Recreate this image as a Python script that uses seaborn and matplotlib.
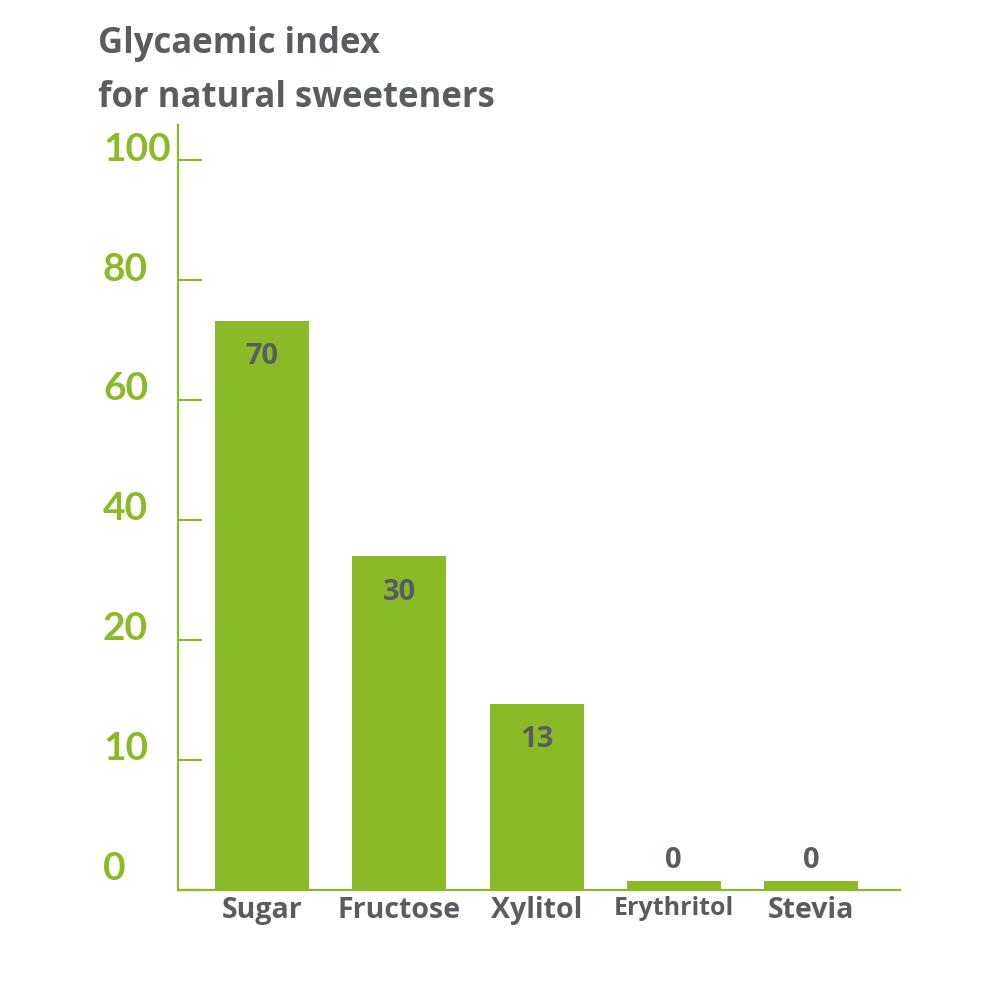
import numpy as np
import matplotlib
matplotlib.use("Agg")
import matplotlib.pyplot as plt
import seaborn as sns
from matplotlib.transforms import ScaledTranslation

# ---- data ----
categories = ["Sugar", "Fructose", "Xylitol", "Erythritol", "Stevia"]
bar_heights = [73.2, 34.0, 14.7, 0.7, 0.7]      # heights as drawn against the axis
value_labels = ["70", "30", "13", "0", "0"]      # printed values
tick_values = [0, 10, 20, 40, 60, 80, 100]
tick_labels = ["0", "10", "20", "40", "60", "80", "100"]
title_lines = ["Glycaemic index", "for natural sweeteners"]

# ---- style ----
GREEN = "#8aba27"
GRAY = "#595c61"
sns.set_theme(style="white")
plt.rcParams["font.family"] = ["Open Sans", "DejaVu Sans"]
TICKFONT = ["Lato", "DejaVu Sans"]

# piecewise (non-linear) value axis: equal spacing between listed ticks
_px = np.array([0, 130, 250, 370, 490, 610, 730, 1330.0])
_vv = np.array([0, 10, 20, 40, 60, 80, 100, 200.0])


def fwd(v):
    return np.interp(v, _vv, _px)


def inv(p):
    return np.interp(p, _px, _vv)


fig = plt.figure(figsize=(10, 10), dpi=100)
ax = fig.add_axes([0.178, 0.11, 0.722, 0.765])
ax.set_yscale("function", functions=(fwd, inv))

sns.barplot(x=categories, y=bar_heights, color=GREEN, saturation=1,
            width=0.685, linewidth=0, ax=ax)

ax.set_xlim(-0.612, 4.648)
ax.set_ylim(0, float(inv(765)))

# spines
for s in ["top", "right"]:
    ax.spines[s].set_visible(False)
for s in ["left", "bottom"]:
    ax.spines[s].set_color(GREEN)
    ax.spines[s].set_linewidth(1.6)
    ax.spines[s].set_zorder(5)

# y ticks (inward marks), labels drawn as left-aligned text
ax.set_yticks(tick_values)
ax.set_yticklabels([])
ax.yaxis.set_minor_locator(matplotlib.ticker.NullLocator())
ax.tick_params(axis="y", which="major", left=True, direction="in",
               length=17.5, width=1.6, color=GREEN)
for v, lab in zip(tick_values, tick_labels):
    dy = 0.22 if v == 0 else 0.11
    tr = ax.get_yaxis_transform() + ScaledTranslation(0, dy, fig.dpi_scale_trans)
    ax.text(-0.104, v, lab, transform=tr, ha="left", va="center",
            fontsize=28, fontweight="bold", color=GREEN, family=TICKFONT)

# x tick labels
ax.tick_params(axis="x", bottom=False, length=0, pad=4)
ax.set_xticks(range(len(categories)))
ax.set_xticklabels(categories, fontsize=20.5, fontweight="bold", color=GRAY)
for t in ax.get_xticklabels():
    if t.get_text() == "Erythritol":
        t.set_fontsize(18)
ax.set_xlabel("")
ax.set_ylabel("")

# value labels
offsets = {True: -26, False: 15}
for i, (h, lab) in enumerate(zip(bar_heights, value_labels)):
    off = -26 if h > 5 else 15
    ax.annotate(lab, (i, h), xytext=(0, off), textcoords="offset points",
                ha="center", va="center", fontsize=21, fontweight="bold",
                color=GRAY)

# title
fig.text(0.098, 1 - 0.044, title_lines[0], ha="left", va="center",
         fontsize=25, fontweight="bold", color=GRAY)
fig.text(0.098, 1 - 0.098, title_lines[1], ha="left", va="center",
         fontsize=25, fontweight="bold", color=GRAY)

fig.savefig("out.png", dpi=100)
